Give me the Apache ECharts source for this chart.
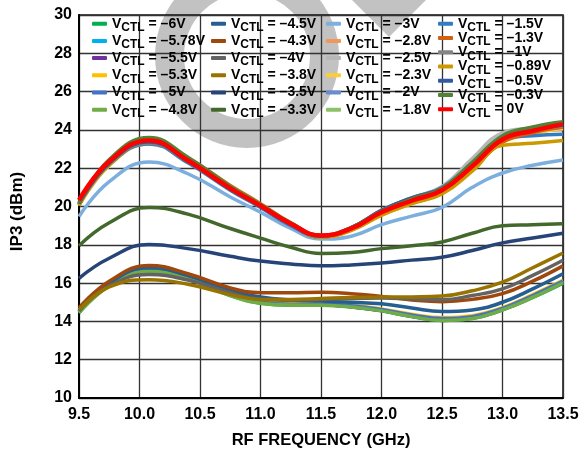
<!DOCTYPE html>
<html>
<head>
<meta charset="utf-8">
<script src="https://cdn.jsdelivr.net/npm/echarts@6/dist/echarts.min.js"></script>
<style>
  html, body { margin: 0; padding: 0; background: #fff; }
  #chart { width: 579px; height: 449px; }
</style>
</head>
<body>
<div id="chart"></div>
<script>
// RF frequency sample points (GHz)
const freqGHz = [9.5, 9.75, 10.08, 10.4, 10.75, 11.0, 11.25, 11.5, 11.75, 12.0, 12.25, 12.5, 12.75, 13.0, 13.25, 13.5];

// IP3 (dBm) per control voltage
const ip3_m6V    = [14.45, 15.85, 16.60, 16.22, 15.35, 14.95, 14.85, 14.85, 14.75, 14.55, 14.25, 14.05, 14.15, 14.60, 15.25, 16.00];
const ip3_m5p78V = [14.50, 15.90, 16.65, 16.29, 15.40, 15.00, 14.90, 14.88, 14.78, 14.58, 14.28, 14.10, 14.20, 14.65, 15.30, 16.05];
const ip3_m5p5V  = [14.50, 15.88, 16.63, 16.27, 15.38, 14.98, 14.88, 14.87, 14.77, 14.57, 14.27, 14.08, 14.18, 14.62, 15.28, 16.03];
const ip3_m5p3V  = [14.50, 15.85, 16.57, 16.22, 15.40, 15.00, 14.92, 14.92, 14.85, 14.65, 14.38, 14.20, 14.30, 14.72, 15.40, 16.14];
const ip3_m5V    = [14.50, 15.90, 16.60, 16.24, 15.40, 15.00, 14.90, 14.90, 14.82, 14.62, 14.33, 14.15, 14.25, 14.68, 15.35, 16.10];
const ip3_m4p8V  = [14.45, 15.85, 16.62, 16.24, 15.35, 14.95, 14.85, 14.84, 14.75, 14.55, 14.25, 14.05, 14.15, 14.60, 15.25, 16.02];
const ip3_m4p5V  = [14.55, 16.00, 16.80, 16.39, 15.60, 15.27, 15.12, 15.06, 15.00, 14.92, 14.70, 14.52, 14.60, 15.00, 15.70, 16.49];
const ip3_m4p3V  = [14.70, 16.10, 16.92, 16.49, 15.75, 15.50, 15.50, 15.52, 15.45, 15.30, 15.12, 15.03, 15.15, 15.45, 16.10, 16.90];
const ip3_m4V    = [14.60, 15.85, 16.45, 16.16, 15.50, 15.15, 15.10, 15.15, 15.20, 15.22, 15.18, 15.13, 15.35, 15.70, 16.40, 17.19];
const ip3_m3p8V  = [14.60, 15.80, 16.18, 15.94, 15.40, 15.15, 15.15, 15.20, 15.25, 15.27, 15.28, 15.32, 15.60, 16.05, 16.80, 17.57];
const ip3_m3p5V  = [16.25, 17.30, 18.02, 17.80, 17.40, 17.15, 17.00, 16.90, 16.95, 17.05, 17.20, 17.35, 17.70, 18.10, 18.35, 18.60];
const ip3_m3p3V  = [17.95, 19.15, 19.95, 19.60, 18.85, 18.35, 17.87, 17.55, 17.60, 17.80, 17.95, 18.15, 18.60, 19.00, 19.05, 19.10];
const ip3_m3V    = [19.48, 21.30, 22.32, 21.71, 20.50, 19.70, 18.85, 18.30, 18.45, 19.05, 19.50, 19.95, 21.00, 21.75, 22.15, 22.43];
const ip3_m2p8V  = [20.05, 22.15, 23.32, 22.46, 21.05, 20.10, 19.10, 18.40, 18.75, 19.55, 20.15, 20.70, 21.95, 23.40, 23.85, 24.05];
const ip3_m2p5V  = [20.10, 22.20, 23.32, 22.33, 20.90, 20.00, 19.05, 18.45, 18.90, 19.80, 20.45, 21.05, 22.50, 23.85, 24.10, 24.30];
const ip3_m2p3V  = [20.05, 22.15, 23.27, 22.36, 20.95, 20.05, 19.05, 18.40, 18.75, 19.55, 20.15, 20.70, 21.95, 23.35, 23.80, 24.10];
const ip3_m2V    = [20.10, 22.20, 23.32, 22.33, 20.90, 20.00, 19.05, 18.45, 18.90, 19.80, 20.45, 21.00, 22.30, 23.60, 23.95, 24.15];
const ip3_m1p8V  = [20.10, 22.20, 23.37, 22.38, 20.95, 20.00, 19.05, 18.45, 18.85, 19.70, 20.30, 20.85, 22.15, 23.55, 23.95, 24.20];
const ip3_m1p5V  = [20.15, 22.20, 23.27, 22.28, 20.85, 19.95, 19.00, 18.40, 18.85, 19.75, 20.40, 20.95, 22.20, 23.50, 23.70, 23.77];
const ip3_m1p3V  = [20.10, 22.25, 23.42, 22.53, 21.10, 20.15, 19.15, 18.45, 18.80, 19.60, 20.20, 20.70, 21.95, 23.35, 23.85, 24.15];
const ip3_m1V    = [20.10, 22.20, 23.32, 22.33, 20.90, 20.00, 19.05, 18.45, 18.85, 19.70, 20.35, 20.90, 22.30, 23.65, 24.00, 24.20];
const ip3_m0p89V = [20.05, 22.20, 23.37, 22.48, 21.05, 20.10, 19.10, 18.40, 18.75, 19.55, 20.15, 20.65, 21.85, 23.20, 23.30, 23.45];
const ip3_m0p5V  = [20.15, 22.25, 23.37, 22.35, 20.90, 20.00, 19.05, 18.45, 18.90, 19.80, 20.45, 20.95, 22.25, 23.60, 24.00, 24.25];
const ip3_m0p3V  = [20.20, 22.45, 23.60, 22.57, 21.05, 20.10, 19.15, 18.50, 18.90, 19.75, 20.40, 20.95, 22.30, 23.70, 24.15, 24.42];
const ip3_0V     = [20.33, 22.35, 23.45, 22.40, 20.95, 20.04, 19.10, 18.48, 18.85, 19.70, 20.30, 20.85, 22.10, 23.50, 23.95, 24.30];

// Control voltage labels, in drawing order
const vctlLabels = ['–6V', '–5.78V', '–5.5V', '–5.3V', '–5V', '–4.8V', '–4.5V', '–4.3V', '–4V', '–3.8V',
                    '–3.5V', '–3.3V', '–3V', '–2.8V', '–2.5V', '–2.3V', '–2V', '–1.8V', '–1.5V', '–1.3V',
                    '–1V', '–0.89V', '–0.5V', '–0.3V', '0V'];
const seriesValues = [ip3_m6V, ip3_m5p78V, ip3_m5p5V, ip3_m5p3V, ip3_m5V, ip3_m4p8V, ip3_m4p5V, ip3_m4p3V, ip3_m4V, ip3_m3p8V,
                      ip3_m3p5V, ip3_m3p3V, ip3_m3V, ip3_m2p8V, ip3_m2p5V, ip3_m2p3V, ip3_m2V, ip3_m1p8V, ip3_m1p5V, ip3_m1p3V,
                      ip3_m1V, ip3_m0p89V, ip3_m0p5V, ip3_m0p3V, ip3_0V];
const lineColors = ['#00B050', '#00B0F0', '#7030A0', '#FFC000', '#4472C4', '#70AD47', '#255E91', '#9E480E', '#636363', '#997300',
                    '#264478', '#43682B', '#7CAFDD', '#F1975A', '#B7B7B7', '#FFCD33', '#698ED0', '#8CC168', '#327DC2', '#D26012',
                    '#848484', '#CC9A00', '#335AA1', '#548235', '#FF0000'];

// Tick settings
const xTicks = { min: 9.5, max: 13.5, step: 0.5 };
const yTicks = { min: 10, max: 30, step: 2 };

const FONT = '"Liberation Sans", Arial, Helvetica, sans-serif';

const series = vctlLabels.map((label, i) => ({
  name: label,
  type: 'line',
  zlevel: 2,
  smooth: 0.45,
  showSymbol: false,
  symbol: 'none',
  color: lineColors[i],
  lineStyle: { width: label === '0V' ? 4.5 : 3.5, color: lineColors[i] },
  data: freqGHz.map((f, k) => [f, seriesValues[i][k]])
}));

const richText = {
  v: { fontFamily: FONT, fontWeight: 'bold', fontSize: 14, lineHeight: 14, color: '#000' },
  s: { fontFamily: FONT, fontWeight: 'bold', fontSize: 12, lineHeight: 14, color: '#000', padding: [8, 0, 0, 0] },
  t: { fontFamily: FONT, fontWeight: 'bold', fontSize: 14, lineHeight: 14, color: '#000' }
};

function legendColumn(names, left, top, gap) {
  return {
    zlevel: 2,
    data: names,
    orient: 'vertical',
    left: left,
    top: top,
    padding: 0,
    itemGap: gap,
    itemWidth: 15,
    itemHeight: 4,
    icon: 'roundRect',
    selectedMode: false,
    formatter: name => '{v|V}{s|CTL}{t| = ' + name + '}',
    textStyle: { fontFamily: FONT, fontWeight: 'bold', fontSize: 14, color: '#000', rich: richText }
  };
}

const chart = echarts.init(document.getElementById('chart'), null, { renderer: 'canvas' });
chart.setOption({
  animation: false,
  backgroundColor: '#fff',
  grid: {
    left: 79, right: 16, top: 15, bottom: 51,
    outerBoundsMode: 'none', containLabel: false,
    show: true, borderColor: '#111', borderWidth: 1.5
  },
  xAxis: {
    type: 'value',
    min: xTicks.min, max: xTicks.max, interval: xTicks.step,
    name: 'RF FREQUENCY (GHz)',
    nameLocation: 'middle',
    nameGap: 34,
    nameTextStyle: { fontFamily: FONT, fontWeight: 'bold', fontSize: 16.5, color: '#000' },
    axisLine: { show: true, lineStyle: { color: '#000', width: 2 } },
    axisTick: { show: false },
    axisLabel: { fontFamily: FONT, fontWeight: 'bold', fontSize: 16, color: '#000', margin: 9, formatter: v => v.toFixed(1) },
    splitLine: { show: true, lineStyle: { color: '#333', width: 1.3 } }
  },
  yAxis: {
    type: 'value',
    min: yTicks.min, max: yTicks.max, interval: yTicks.step,
    name: 'IP3 (dBm)',
    nameLocation: 'middle',
    nameGap: 53,
    nameTextStyle: { fontFamily: FONT, fontWeight: 'bold', fontSize: 17, color: '#000', padding: [0, 10, 0, 0] },
    axisLine: { show: true, lineStyle: { color: '#000', width: 2 } },
    axisTick: { show: false },
    axisLabel: { fontFamily: FONT, fontWeight: 'bold', fontSize: 16, color: '#000', margin: 7 },
    splitLine: { show: true, lineStyle: { color: '#333', width: 1.3 } }
  },
  legend: [
    legendColumn(vctlLabels.slice(0, 6), 92, 13.7, -2.8),
    legendColumn(vctlLabels.slice(6, 12), 211, 13.7, -2.8),
    legendColumn(vctlLabels.slice(12, 18), 326, 13.7, -2.8),
    legendColumn(vctlLabels.slice(18, 25), 438, 13.7, -5.73)
  ],
  graphic: {
    zlevel: 1,
    elements: [
      // white panel behind the legend block
      { type: 'rect', silent: true, shape: { x: 83, y: 16, width: 475, height: 105 }, style: { fill: '#fff' } },
      // grey logo mark: ring and triangle
      { type: 'ring', silent: true, shape: { cx: 247, cy: 56, r: 92, r0: 63 }, style: { fill: 'rgba(0,0,0,0.24)' } },
      { type: 'polygon', silent: true, shape: { points: [[350, -2], [428, -2], [389, 37]] }, style: { fill: 'rgba(0,0,0,0.24)' } }
    ]
  },
  series: series
});
</script>
</body>
</html>
